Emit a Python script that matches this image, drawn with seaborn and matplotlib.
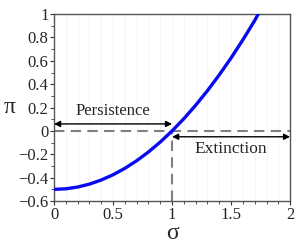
import matplotlib
matplotlib.use("Agg")
import matplotlib.pyplot as plt
import seaborn as sns
import pandas as pd
from matplotlib.ticker import MultipleLocator

sigma = [0.0, 0.1, 0.2, 0.3, 0.4, 0.5, 0.6, 0.7, 0.8, 0.9, 1.0, 1.1, 1.2, 1.3, 1.4, 1.5, 1.6, 1.7, 1.73]
pi_vals = [-0.5, -0.495, -0.48, -0.455, -0.42, -0.375, -0.32, -0.255, -0.18, -0.095, 0.0,
           0.105, 0.22, 0.345, 0.48, 0.625, 0.78, 0.945, 1.0]
xticks = [0, 0.5, 1, 1.5, 2]
yticks = [-0.6, -0.4, -0.2, 0, 0.2, 0.4, 0.6, 0.8, 1]
xticklabels = ["0", "0.5", "1", "1.5", "2"]
yticklabels = ["\u22120.6", "\u22120.4", "\u22120.2", "0", "0.2", "0.4", "0.6", "0.8", "1"]

sns.set_style("white")
plt.rcParams['font.family'] = ['Liberation Serif', 'DejaVu Serif']

df = pd.DataFrame({"sigma": sigma, "pi": pi_vals})

fig = plt.figure(figsize=(3.07, 2.47), dpi=100)
ax = fig.add_axes([0.176, 0.186, 0.769, 0.757])

for x in [i * 0.1 for i in range(1, 20)]:
    ax.axvline(x, color="#f3f3f3", lw=0.6, zorder=0)

ax.axhline(0, color="#808080", lw=1.5, ls=(0, (5, 3)), zorder=1)
ax.plot([1, 1], [-0.6, 0], color="#808080", lw=1.5, ls=(0, (5, 3)), zorder=1)

sns.lineplot(data=df, x="sigma", y="pi", ax=ax, color="#0a0af0", lw=2.4, zorder=3)

ax.annotate("", xy=(0.0, 0.06), xytext=(1.0, 0.06),
            arrowprops=dict(arrowstyle="<|-|>", color="black", lw=1.0, mutation_scale=9, shrinkA=0, shrinkB=0))
ax.text(0.5, 0.1, "Persistence", ha="center", va="bottom", fontsize=12)
ax.annotate("", xy=(1.0, -0.05), xytext=(2.0, -0.05),
            arrowprops=dict(arrowstyle="<|-|>", color="black", lw=1.0, mutation_scale=9, shrinkA=0, shrinkB=0))
ax.text(1.5, -0.085, "Extinction", ha="center", va="top", fontsize=12.5)

ax.set_xlim(0, 2)
ax.set_ylim(-0.6, 1)
ax.set_xticks(xticks)
ax.set_xticklabels(xticklabels)
ax.set_yticks(yticks)
ax.set_yticklabels(yticklabels)
ax.xaxis.set_minor_locator(MultipleLocator(0.1))
ax.yaxis.set_minor_locator(MultipleLocator(0.1))
ax.tick_params(axis="both", which="major", direction="out", length=3, width=0.8,
               labelsize=12, pad=1, color="#333333", bottom=True, left=True)
ax.tick_params(axis="both", which="minor", direction="out", length=2, width=0.6,
               color="#333333", bottom=True, left=True)
for s in ax.spines.values():
    s.set_color("#555555")
    s.set_linewidth(1.0)

ax.set_xlabel("\u03c3", fontsize=17, labelpad=0)
ax.set_ylabel("\u03c0", fontsize=17, rotation=0, labelpad=6, va="center")

fig.savefig("out.png", dpi=100)
